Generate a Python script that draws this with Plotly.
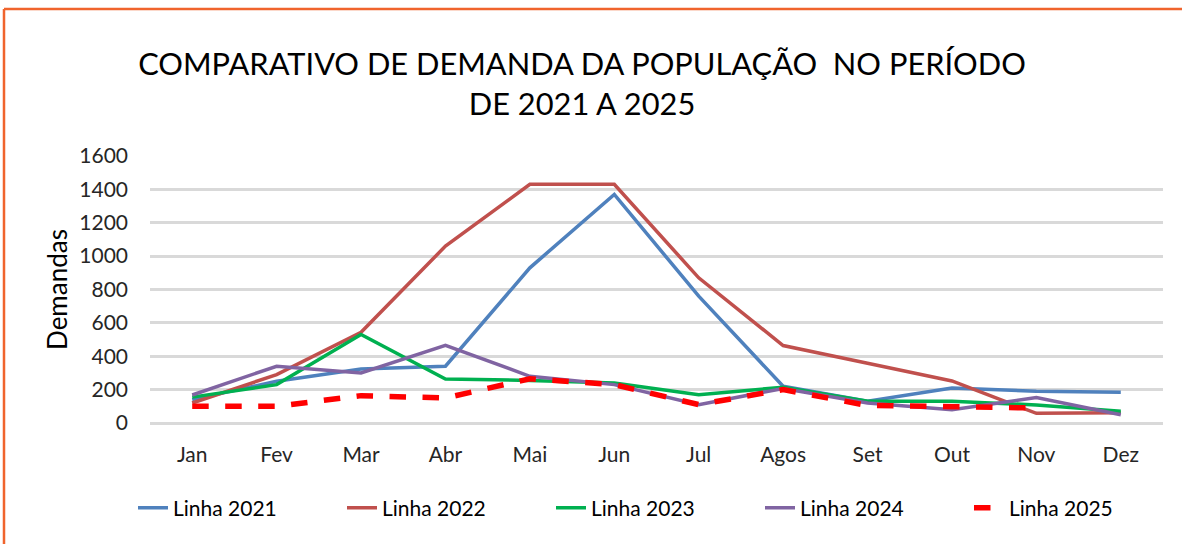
import plotly.graph_objects as go

months = ["Jan", "Fev", "Mar", "Abr", "Mai", "Jun", "Jul", "Agos", "Set", "Out", "Nov", "Dez"]
linha_2021 = [140, 250, 324, 340, 930, 1370, 760, 220, 130, 210, 190, 185]
linha_2022 = [120, 290, 544, 1060, 1430, 1430, 870, 464, 358, 252, 58, 62]
linha_2023 = [155, 230, 530, 264, 255, 240, 170, 214, 130, 130, 108, 70]
linha_2024 = [168, 340, 300, 466, 280, 230, 110, 207, 120, 80, 152, 50]
linha_2025 = [100, 100, 164, 150, 265, 230, 110, 200, 105, 100, 90, None]

series = [
    ("Linha 2021", linha_2021, "#4F81BD", 3.5, "solid"),
    ("Linha 2022", linha_2022, "#C0504D", 3.5, "solid"),
    ("Linha 2023", linha_2023, "#00B050", 3.5, "solid"),
    ("Linha 2024", linha_2024, "#8064A2", 3.5, "solid"),
    ("Linha 2025", linha_2025, "#FF0000", 5.5, "dash"),
]

FONT = "Lato"
fig = go.Figure()
for name, vals, color, width, dash in series:
    fig.add_trace(go.Scatter(
        x=months, y=vals, name=name, mode="lines",
        line=dict(color=color, width=width, dash=dash),
        connectgaps=False,
    ))

W, H = 1182, 544
L, R, T, B = 150, 19, 156, 121
pw, ph = W - L - R, H - T - B

def px_x(p):
    return (p - L) / pw

def px_y(p):
    return (H - B - p) / ph

fig.update_layout(
    width=W, height=H,
    margin=dict(l=L, r=R, t=T, b=B),
    paper_bgcolor="white", plot_bgcolor="white",
    font=dict(family=FONT, color="#262626", size=21),
    title=dict(
        text="COMPARATIVO DE DEMANDA DA POPULAÇÃO  NO PERÍODO<br>DE 2021 A 2025",
        xref="container", x=582 / W, xanchor="center",
        yref="container", y=1 - 75 / H, yanchor="middle",
        font=dict(family=FONT, size=30.8, color="#000000"),
    ),
    xaxis=dict(
        type="category", range=[-0.5, 11.5], showgrid=False, zeroline=False,
        showline=False, ticks="", tickfont=dict(size=21, color="#262626"),
        ticklabelstandoff=17,
    ),
    yaxis=dict(
        range=[0, 1600], tickvals=[0, 200, 400, 600, 800, 1000, 1200, 1400, 1600],
        showgrid=True, gridcolor="#D9D9D9", gridwidth=2.5,
        zeroline=True, zerolinecolor="#D9D9D9", zerolinewidth=2.5,
        showline=False, ticks="", tickfont=dict(size=21, color="#262626"),
        ticklabelstandoff=21,
        title=dict(text="Demandas", font=dict(size=26, color="#000000"), standoff=4),
    ),
    legend=dict(
        orientation="h", x=px_x(133), xanchor="left", y=px_y(508), yanchor="middle",
        font=dict(size=21, color="#000000"), entrywidth=164, entrywidthmode="pixels",
        bgcolor="rgba(0,0,0,0)",
    ),
    showlegend=True,
    shapes=[
        dict(type="line", xref="paper", yref="paper",
             x0=px_x(4), x1=px_x(1200), y0=px_y(9), y1=px_y(9),
             line=dict(color="#F0642D", width=2.5)),
        dict(type="line", xref="paper", yref="paper",
             x0=px_x(4), x1=px_x(4), y0=px_y(9), y1=px_y(560),
             line=dict(color="#F0642D", width=2.5)),
    ],
)

fig.write_html(
    "out.html",
    config={"displayModeBar": False},
    post_script="document.body.style.margin='0';document.body.style.overflow='hidden';",
)
